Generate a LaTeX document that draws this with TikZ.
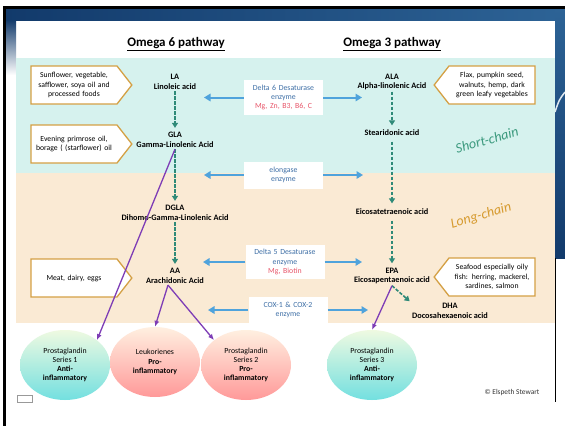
\documentclass[tikz,border=0pt]{standalone}
\usepackage{fontspec}
\setmainfont{Carlito}
\usetikzlibrary{arrows.meta,positioning,shapes.symbols,shapes.geometric,calc}
\definecolor{slidedark}{HTML}{123A6B}
\definecolor{slidemid}{HTML}{2D6396}
\definecolor{shortbg}{HTML}{D6F2EE}
\definecolor{longbg}{HTML}{FAEAD4}
\definecolor{srcgold}{HTML}{D4A044}
\definecolor{enzblue}{HTML}{3E6FA6}
\definecolor{enzred}{HTML}{E8566A}
\definecolor{arrblue}{HTML}{4FA3DC}
\definecolor{dashgreen}{HTML}{2F8A78}
\definecolor{pgpurple}{HTML}{7E3DB6}
\definecolor{chaingreen}{HTML}{3C9A7E}
\definecolor{chaingold}{HTML}{D69A2E}

\begin{document}
\begin{tikzpicture}[
    x=1pt,y=-1pt,
    acid/.style = {align=center,font=\fontsize{8.3}{9.4}\selectfont\bfseries,inner sep=1.5pt},
    src/.style  = {signal,draw=srcgold,line width=1.3pt,fill=white,align=center,
                   text width=80pt,minimum height=38pt,inner xsep=3pt,
                   font=\fontsize{7.7}{9.3}\selectfont,signal pointer angle=104},
    enz/.style  = {fill=white,align=center,text=enzblue,text width=74pt,
                   inner xsep=2.5pt,font=\fontsize{7.8}{9.2}\selectfont},
    pg/.style   = {ellipse,minimum width=90pt,minimum height=70pt,inner sep=0pt,
                   align=center,font=\fontsize{7.8}{9.2}\selectfont},
    fl/.style   = {-{Triangle[length=5pt,width=6pt]},dashgreen,line width=1.6pt,
                   dash pattern=on 3.4pt off 1.6pt},
    blu/.style  = {-{Triangle[length=6.5pt,width=7.5pt]},arrblue,line width=2pt},
    pur/.style  = {-{Latex[length=6pt,width=5pt]},pgpurple,line width=1.3pt},
    chain/.style= {font=\fontsize{14}{14}\selectfont\itshape,rotate=16},
  ]
  \useasboundingbox (0,0) rectangle (565,426);

  % slide frame
  \fill[white] (0,0) rectangle (565,426);
  \shade[left color=slidedark,right color=slidemid] (5,8) rectangle (565,20);
  \shade[top color=slidedark,bottom color=white] (5,20) rectangle (16,75);
  \shade[top color=slidemid,bottom color=slidedark] (555,8) rectangle (565,258);
  \draw[white!85!slidemid,line width=1.5pt] (555,112) .. controls (559,100) .. (565,92);
  \fill[black] (3,6) rectangle (565,8.5);
  \fill[black] (3,6) rectangle (5.5,426);
  \fill[black] (554.5,258) rectangle (556,402);

  % bands
  \fill[shortbg] (16,58) rectangle (555,173);
  \fill[longbg]  (16,173) rectangle (555,323);

  % headers
  \node[font=\fontsize{13}{13}\selectfont\bfseries] (h6) at (176,44) {\underline{Omega 6 pathway}};
  \node[font=\fontsize{13}{13}\selectfont\bfseries] (h3) at (392,44) {\underline{Omega 3 pathway}};

  \node[chain,text=chaingreen] (sc) at (487,140) {Short-chain};
  \node[chain,text=chaingold]  (lc) at (481,216) {Long-chain};

  % food sources
  \node[src,signal to=east] (s1) at (74,85)  {Sunflower, vegetable,\\safflower, soya oil and\\processed foods};
  \node[src,signal to=east] (s2) at (74,144) {Evening primrose oil,\\borage ( (starflower) oil};
  \node[src,signal to=east] (s3) at (74,278) {Meat, dairy, eggs};
  \node[src,signal to=west] (s4) at (492,85)  {Flax, pumpkin seed,\\walnuts, hemp, dark\\green leafy vegetables};
  \node[src,signal to=west] (s5) at (492,277) {Seafood especially oily\\fish: herring, mackerel,\\sardines, salmon};

  % omega 6 acids
  \node[acid] (la)   at (175,82)  {LA\\Linoleic acid};
  \node[acid] (gla)  at (175,140) {GLA\\Gamma-Linolenic Acid};
  \node[acid] (dgla) at (175,213) {DGLA\\Dihomo-Gamma-Linolenic Acid};
  \node[acid] (aa)   at (175,276) {AA\\Arachidonic Acid};

  % omega 3 acids
  \node[acid] (ala)  at (392,82)  {ALA\\Alpha-linolenic Acid};
  \node[acid] (sda)  at (392,133) {Stearidonic acid};
  \node[acid] (eta)  at (392,212) {Eicosatetraenoic acid};
  \node[acid] (epa)  at (392,276) {EPA\\Eicosapentaenoic acid};
  \node[acid] (dha)  at (450,311) {DHA\\Docosahexaenoic acid};

  % enzymes
  \node[enz,minimum height=35pt] (d6)  at (283.5,97.5) {Delta 6 Desaturase\\enzyme\\\textcolor{enzred}{Mg, Zn, B3, B6, C}};
  \node[enz,minimum height=27pt] (el)  at (283.5,175)  {elongase\\enzyme};
  \node[enz,minimum height=34pt] (d5)  at (285,262)    {Delta 5 Desaturase\\enzyme\\\textcolor{enzred}{Mg, Biotin}};
  \node[enz,minimum height=26pt] (cox) at (288,310)    {COX-1 \& COX-2\\enzyme};

  \coordinate (d6l)  at (204,97.5);  \coordinate (d6r)  at (362,97.5);
  \coordinate (ell)  at (204,175);   \coordinate (elr)  at (363,175);
  \coordinate (d5l)  at (203,262);   \coordinate (d5r)  at (362,262);
  \coordinate (coxl) at (208,310);   \coordinate (coxr) at (368,310);

  % prostaglandins
  \node[pg,top color=white!85!yellow!60!shortbg,bottom color=teal!45!cyan!55] (pg1) at (65,365)
       {Prostaglandin\\Series 1\\\textbf{Anti-}\\\textbf{inflammatory}};
  \node[pg,top color=orange!12,bottom color=red!40] (lk) at (155,362)
       {Leukorienes\\\textbf{Pro-}\\\textbf{inflammatory}};
  \node[pg,top color=orange!12,bottom color=red!40] (pg2) at (246,365)
       {Prostaglandin\\Series 2\\\textbf{Pro-}\\\textbf{inflammatory}};
  \node[pg,top color=white!85!yellow!60!shortbg,bottom color=teal!45!cyan!55] (pg3) at (372,365)
       {Prostaglandin\\Series 3\\\textbf{Anti-}\\\textbf{inflammatory}};

  \node[font=\fontsize{7.4}{8}\selectfont,text=black!80] (cr) at (512,393) {\textcopyright{} Elspeth Stewart};
  \draw[black!40,fill=white] (17,395) rectangle (32,402);

  % conversion steps
  \draw[fl,shorten >=3pt] (la)   -- (gla);
  \draw[fl,shorten >=3pt] (gla)  -- (dgla);
  \draw[fl,shorten >=3pt] (dgla) -- (aa);
  \draw[fl,shorten >=3pt] (ala)  -- (sda);
  \draw[fl,shorten <=4pt,shorten >=4pt] (sda)  -- (eta);
  \draw[fl,shorten <=4pt,shorten >=3pt] (eta)  -- (epa);
  \draw[fl,shorten >=1pt] (epa.south) -- (dha.north west);

  % enzyme arrows
  \draw[blu] (d6.west)  -- (d6l);   \draw[blu] (d6.east)  -- (d6r);
  \draw[blu] (el.west)  -- (ell);   \draw[blu] (el.east)  -- (elr);
  \draw[blu] (d5.west)  -- (d5l);   \draw[blu] (d5.east)  -- (d5r);
  \draw[blu] (cox.west) -- (coxl);  \draw[blu] (cox.east) -- (coxr);

  % eicosanoids
  \draw[pur] (gla.south) -- (pg1.north east);
  \draw[pur] ([xshift=-7pt]aa.south) -- (lk.north);
  \draw[pur] ([xshift=-7pt]aa.south) -- (pg2.north west);
  \draw[pur] (epa.south) -- (pg3.north);

\end{tikzpicture}
\end{document}
